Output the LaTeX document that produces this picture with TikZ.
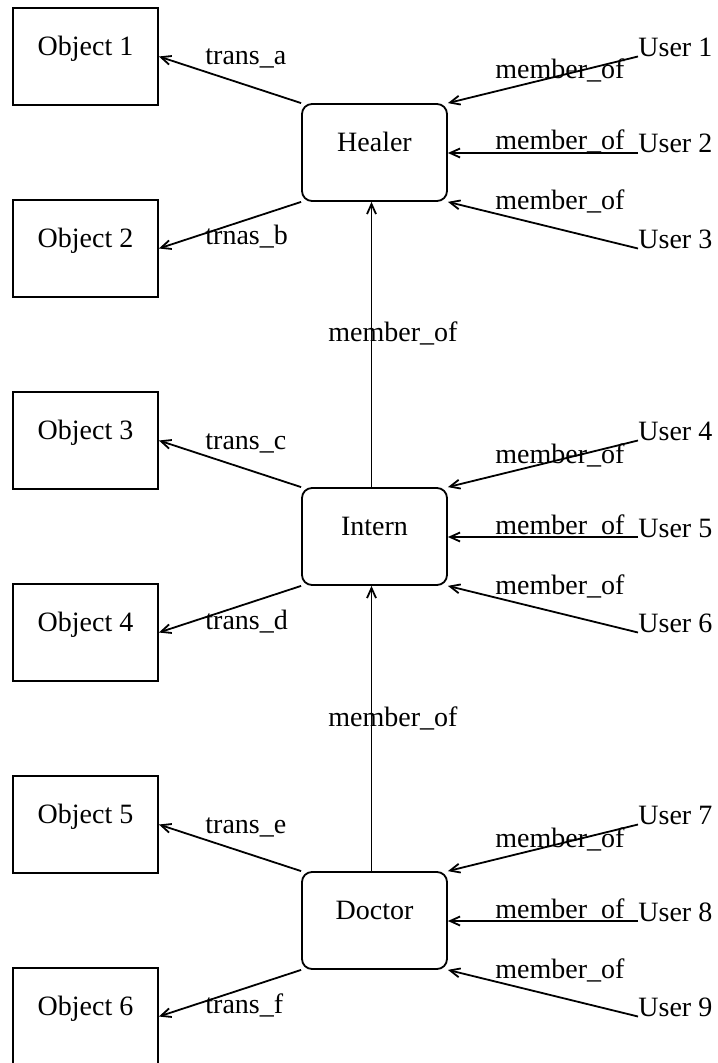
\documentclass[tikz,border=0pt]{standalone}
\usepackage{fontspec}
\setmainfont{Liberation Serif}
\usetikzlibrary{arrows.meta}
\begin{document}
\begin{tikzpicture}[x=0.5pt,y=-0.5pt,
  txt/.style={font=\fontsize{14pt}{16pt}\selectfont},
  box/.style={txt, draw, line width=0.9pt, minimum width=72.5pt, minimum height=48.5pt,
    inner sep=0pt, text height=10pt, text depth=11.3pt},
  objbox/.style={box},
  rolebox/.style={box, rounded corners=5pt},
  usertxt/.style={txt, anchor=base west, inner sep=0pt},
  lbl/.style={txt, anchor=base west, inner sep=0pt},
  conn/.style={line width=0.9pt, -{Straight Barb[length=5pt,width=4.5pt]}}]
\useasboundingbox (0,0) rectangle (717,1063);

% role boxes
\node[rolebox] (healer) at (374.5,152.5) {Healer};
\node[rolebox] (intern) at (374.5,536.5) {Intern};
\node[rolebox] (doctor) at (374.5,920.5) {Doctor};

% object boxes
\node[objbox] (o1) at (85.5,56.5) {Object 1};
\node[objbox] (o2) at (85.5,248.5) {Object 2};
\node[objbox] (o3) at (85.5,440.5) {Object 3};
\node[objbox] (o4) at (85.5,632.5) {Object 4};
\node[objbox] (o5) at (85.5,824.5) {Object 5};
\node[objbox] (o6) at (85.5,1016.5) {Object 6};

% users
\node[usertxt] (u1) at (638,56.5) {User 1};
\node[usertxt] (u2) at (638,153) {User 2};
\node[usertxt] (u3) at (638,248.5) {User 3};
\node[usertxt] (u4) at (638,440.5) {User 4};
\node[usertxt] (u5) at (638,537) {User 5};
\node[usertxt] (u6) at (638,632.5) {User 6};
\node[usertxt] (u7) at (638,824.5) {User 7};
\node[usertxt] (u8) at (638,921) {User 8};
\node[usertxt] (u9) at (638,1016.5) {User 9};

% object connectors
\draw[conn] (healer.north west) -- (o1.east);
\draw[conn] (healer.south west) -- (o2.east);
\draw[conn] (intern.north west) -- (o3.east);
\draw[conn] (intern.south west) -- (o4.east);
\draw[conn] (doctor.north west) -- (o5.east);
\draw[conn] (doctor.south west) -- (o6.east);

% user connectors
\draw[conn] (u1.base west) -- (healer.north east);
\draw[conn] (u2.base west) -- (healer.east |- u2.base west);
\draw[conn] (u3.base west) -- (healer.south east);
\draw[conn] (u4.base west) -- (intern.north east);
\draw[conn] (u5.base west) -- (intern.east |- u5.base west);
\draw[conn] (u6.base west) -- (intern.south east);
\draw[conn] (u7.base west) -- (doctor.north east);
\draw[conn] (u8.base west) -- (doctor.east |- u8.base west);
\draw[conn] (u9.base west) -- (doctor.south east);

% role hierarchy
\draw[conn] ([xshift=-1.5pt]intern.north) -- ([xshift=-1.5pt]healer.south);
\draw[conn] ([xshift=-1.5pt]doctor.north) -- ([xshift=-1.5pt]intern.south);

% labels
\node[lbl] (la) at (205,65) {trans\_a};
\node[lbl] (lb) at (205,245) {trnas\_b};
\node[lbl] (lc) at (205,449) {trans\_c};
\node[lbl] (ld) at (205,629) {trans\_d};
\node[lbl] (le) at (205,833) {trans\_e};
\node[lbl] (lf) at (205,1013) {trans\_f};

\node[lbl] (m1) at (495,79) {member\_of};
\node[lbl] (m2) at (495,150) {member\_of};
\node[lbl] (m3) at (495,210) {member\_of};
\node[lbl] (m4) at (495,463) {member\_of};
\node[lbl] (m5) at (495,534) {member\_of};
\node[lbl] (m6) at (495,594) {member\_of};
\node[lbl] (m7) at (495,847) {member\_of};
\node[lbl] (m8) at (495,918) {member\_of};
\node[lbl] (m9) at (495,978) {member\_of};

\node[lbl] (mh) at (328,342) {member\_of};
\node[lbl] (mi) at (328,726) {member\_of};
\end{tikzpicture}
\end{document}
